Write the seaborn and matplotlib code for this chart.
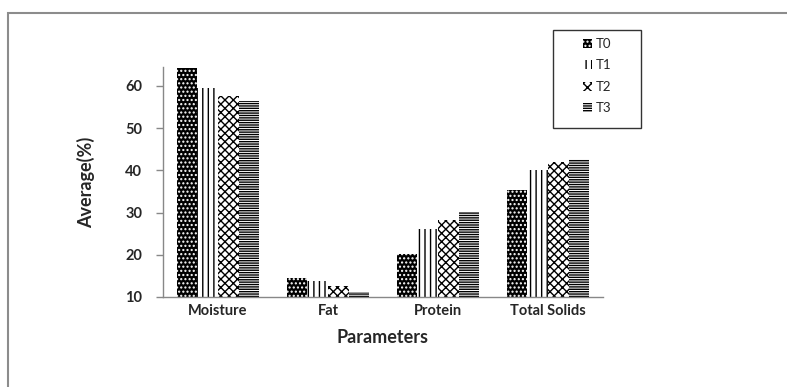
import matplotlib
matplotlib.use("Agg")
import matplotlib.pyplot as plt
import matplotlib.patches as mpatches
import seaborn as sns
import pandas as pd

categories = ["Moisture", "Fat", "Protein", "Total Solids"]
treatments = ["T0", "T1", "T2", "T3"]
t0 = [64.3, 14.6, 20.2, 35.4]
t1 = [59.5, 13.8, 26.2, 40.2]
t2 = [57.7, 12.5, 28.3, 42.1]
t3 = [56.5, 11.3, 30.2, 42.8]
yticks = [10, 20, 30, 40, 50, 60]

rows = []
for tr, vals in zip(treatments, [t0, t1, t2, t3]):
    for c, v in zip(categories, vals):
        rows.append({"Parameter": c, "Treatment": tr, "Value": v})
df = pd.DataFrame(rows)

sns.set_style("white")
plt.rcParams['font.family'] = ['Lato', 'DejaVu Sans']
plt.rcParams['hatch.linewidth'] = 1.0

fig = plt.figure(figsize=(7.87, 3.87), dpi=100)
ax = fig.add_axes([163/787, 1-297/387, (603-163)/787, (297-67)/387])

sns.barplot(data=df, x="Parameter", y="Value", hue="Treatment", order=categories,
            hue_order=treatments, width=0.75, ax=ax, legend=False, errorbar=None)

styles = [
    dict(facecolor="black", edgecolor="white", hatch="...."),
    dict(facecolor="white", edgecolor="black", hatch="|||"),
    dict(facecolor="white", edgecolor="black", hatch="xxxx"),
    dict(facecolor="white", edgecolor="black", hatch="-------"),
]
for cont, st in zip(ax.containers, styles):
    for p in cont:
        p.set_facecolor(st["facecolor"])
        p.set_edgecolor(st["edgecolor"])
        p.set_hatch(st["hatch"])
        p.set_linewidth(0)

ax.set_xlim(-0.5, 3.5)
ax.set_ylim(10, 64.5)
ax.set_yticks(yticks)
ax.set_yticklabels([str(v) for v in yticks], fontsize=10.5, fontweight="bold")
ax.set_xticks(range(len(categories)))
ax.set_xticklabels(categories, fontsize=10.5, fontweight="bold")
ax.tick_params(axis="x", which="major", length=0, pad=5)
ax.set_xticks([-0.5, 0.5, 1.5, 2.5, 3.5], minor=True)
ax.tick_params(axis="x", which="minor", length=5, width=1, color="#888888", direction="out")
ax.tick_params(axis="y", length=5, width=1, color="#888888", direction="out", pad=10, left=True)
ax.set_xlabel("Parameters", fontsize=13, fontweight="bold", labelpad=8)
ax.set_ylabel("Average(%)", fontsize=13, fontweight="bold", labelpad=22)
for s in ["top", "right"]:
    ax.spines[s].set_visible(False)
for s in ["left", "bottom"]:
    ax.spines[s].set_color("#888888")
    ax.spines[s].set_linewidth(1)

handles = [mpatches.Patch(facecolor=st["facecolor"], edgecolor=st["edgecolor"],
                          hatch=st["hatch"], linewidth=0) for st in styles]
leg = fig.legend(handles, treatments, loc="center",
                 bbox_to_anchor=(597/787, 1-76/387), bbox_transform=fig.transFigure,
                 frameon=False, fontsize=9.5, handlelength=0.7,
                 handleheight=0.7, handletextpad=0.3, labelspacing=0.72,
                 borderpad=0.0, borderaxespad=0)
legbox = mpatches.Rectangle((553/787, 1-128/387), 88/787, 98/387, transform=fig.transFigure,
                            fill=True, facecolor="white", edgecolor="#333333",
                            linewidth=1, zorder=0)
fig.patches.append(legbox)

border = mpatches.Rectangle((8/787, -0.2), 1.2, 1-13/387+0.2, transform=fig.transFigure,
                            fill=False, edgecolor="#8c8c8c", linewidth=1.5, clip_on=False)
fig.patches.append(border)

fig.savefig("out.png", dpi=100)
